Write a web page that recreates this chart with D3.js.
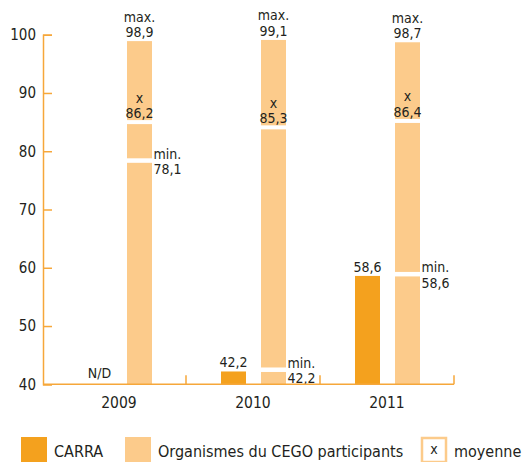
<!DOCTYPE html>
<html>
<head>
<meta charset="utf-8">
<script src="https://cdn.jsdelivr.net/npm/d3@7"></script>
<style>
  body { margin: 0; background: #fff; }
  svg text { font-family: "DejaVu Sans Condensed", "Liberation Sans Narrow", "Roboto", sans-serif; fill: #231f20; }
</style>
</head>
<body>
<svg id="chart" width="522" height="462"></svg>
<script>
// data
var years = ["2009", "2010", "2011"];
var carra = [null, 42.2, 58.6];        // null = N/D
var cegoMax = [98.9, 99.1, 98.7];
var cegoMean = [86.2, 85.3, 86.4];
var cegoMin = [78.1, 42.2, 58.6];
var yTicks = [40, 50, 60, 70, 80, 90, 100];
var legendLabels = ["CARRA", "Organismes du CEGO participants", "moyenne"];

var dark = "#f4a11e";
var light = "#fccb8b";
var axisCol = "#f6a73a";

var fmt = function (v) { return d3.format(".1f")(v).replace(".", ","); };

var svg = d3.select("#chart");

var x = d3.scaleBand().domain(years).range([52, 454]).padding(0);
var sub = d3.scaleBand().domain(["carra", "cego"]).range([35, 100]).paddingInner(0.375);
var y = d3.scaleLinear().domain([40, 100]).range([384.3, 34.7]);

// y axis, ticks pointing inward
var yAxis = d3.axisLeft(y).tickValues(yTicks).tickSize(-9).tickPadding(7);
var gy = svg.append("g").attr("transform", "translate(43,0)").call(yAxis);
gy.select(".domain").attr("stroke", axisCol).attr("stroke-width", 1.5);
gy.selectAll(".tick line").attr("stroke", axisCol).attr("stroke-width", 1.5);
gy.selectAll(".tick text").style("font-size", "15px").attr("fill", "#231f20");

// bars
var rows = years.map(function (yr, i) {
  return { year: yr, carra: carra[i], max: cegoMax[i], mean: cegoMean[i], min: cegoMin[i] };
});

var g = svg.append("g");

g.selectAll("rect.cego").data(rows).enter().append("rect")
  .attr("class", "cego")
  .attr("x", function (d) { return x(d.year) + sub("cego"); })
  .attr("width", sub.bandwidth())
  .attr("y", function (d) { return y(d.max); })
  .attr("height", function (d) { return y(40) - y(d.max); })
  .attr("fill", light);

g.selectAll("rect.carra").data(rows.filter(function (d) { return d.carra != null; })).enter().append("rect")
  .attr("class", "carra")
  .attr("x", function (d) { return x(d.year) + sub("carra"); })
  .attr("width", sub.bandwidth())
  .attr("y", function (d) { return y(d.carra); })
  .attr("height", function (d) { return y(40) - y(d.carra); })
  .attr("fill", dark);

// white breaks for mean and min
g.selectAll("rect.meanGap").data(rows).enter().append("rect")
  .attr("x", function (d) { return x(d.year) + sub("cego"); })
  .attr("width", sub.bandwidth())
  .attr("y", function (d) { return y(d.mean) + 5; })
  .attr("height", 4)
  .attr("fill", "#fff");

g.selectAll("rect.minGap").data(rows).enter().append("rect")
  .attr("x", function (d) { return x(d.year) + sub("cego"); })
  .attr("width", sub.bandwidth())
  .attr("y", function (d) { return y(d.min) - 4; })
  .attr("height", 4.5)
  .attr("fill", "#fff");

// x axis baseline + separators
svg.append("line")
  .attr("x1", 43).attr("x2", x.range()[1])
  .attr("y1", y(40)).attr("y2", y(40))
  .attr("stroke", axisCol).attr("stroke-width", 1.5);
svg.selectAll("line.sep").data(years).enter().append("line")
  .attr("x1", function (d) { return x(d) + x.bandwidth(); })
  .attr("x2", function (d) { return x(d) + x.bandwidth(); })
  .attr("y1", y(40)).attr("y2", y(40) - 9)
  .attr("stroke", axisCol).attr("stroke-width", 1.5);

svg.selectAll("text.year").data(years).enter().append("text")
  .attr("x", function (d) { return x(d) + x.bandwidth() / 2; })
  .attr("y", 408)
  .attr("text-anchor", "middle")
  .style("font-size", "15.5px")
  .text(function (d) { return d; });

// labels
var cx = function (d) { return x(d.year) + sub("cego") + sub.bandwidth() / 2; };
var fs = "14px";

var maxT = g.selectAll("g.max").data(rows).enter().append("g");
maxT.append("text").attr("text-anchor", "middle").style("font-size", fs)
  .attr("x", cx).attr("y", function (d) { return y(d.max) - 19.5; }).text("max.");
maxT.append("text").attr("text-anchor", "middle").style("font-size", fs)
  .attr("x", cx).attr("y", function (d) { return y(d.max) - 4; }).text(function (d) { return fmt(d.max); });

var meanT = g.selectAll("g.mean").data(rows).enter().append("g");
meanT.append("text").attr("text-anchor", "middle").style("font-size", fs)
  .attr("x", cx).attr("y", function (d) { return y(d.mean) - 12.5; }).text("x");
meanT.append("text").attr("text-anchor", "middle").style("font-size", fs)
  .attr("x", cx).attr("y", function (d) { return y(d.mean) + 3; }).text(function (d) { return fmt(d.mean); });

var mx = function (d) { return x(d.year) + sub("cego") + sub.bandwidth() + 1.5; };
var minT = g.selectAll("g.min").data(rows).enter().append("g");
minT.append("text").style("font-size", fs)
  .attr("x", mx).attr("y", function (d) { return y(d.min) - 3.5; }).text("min.");
minT.append("text").style("font-size", fs)
  .attr("x", mx).attr("y", function (d) { return y(d.min) + 12; }).text(function (d) { return fmt(d.min); });

g.selectAll("text.carra").data(rows).enter().append("text")
  .attr("text-anchor", "middle").style("font-size", fs)
  .attr("x", function (d) { return x(d.year) + sub("carra") + sub.bandwidth() / 2; })
  .attr("y", function (d) { return d.carra == null ? y(40) - 6 : y(d.carra) - 4; })
  .text(function (d) { return d.carra == null ? "N/D" : fmt(d.carra); });

// legend
var legend = svg.append("g");
var lx = [21, 125, 421];
legendLabels.forEach(function (lab, i) {
  var item = legend.append("g").attr("transform", "translate(" + lx[i] + ",437)");
  if (i < 2) {
    item.append("rect").attr("width", 26).attr("height", 26).attr("fill", i === 0 ? dark : light);
  } else {
    item.append("rect").attr("x", 1).attr("y", 1).attr("width", 24).attr("height", 24)
      .attr("fill", "#fff").attr("stroke", light).attr("stroke-width", 2.5);
    item.append("text").attr("x", 13).attr("y", 17).attr("text-anchor", "middle")
      .style("font-size", "14px").text("x");
  }
  item.append("text").attr("x", 33).attr("y", 19.5).style("font-size", "16px").text(lab);
});
</script>
</body>
</html>
